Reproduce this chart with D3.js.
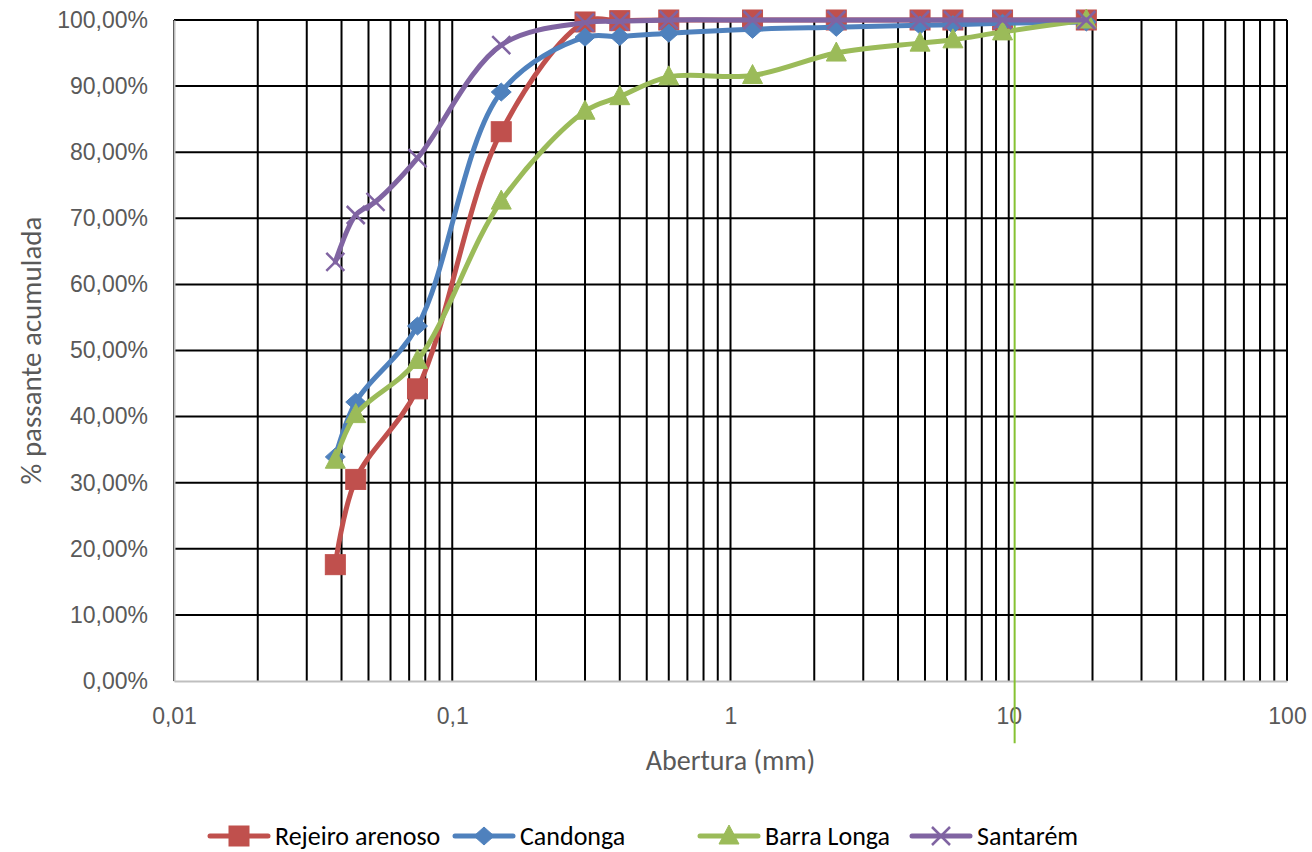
<!DOCTYPE html>
<html>
<head>
<meta charset="utf-8">
<script src="https://cdn.jsdelivr.net/npm/d3@7"></script>
<style>
  html,body{margin:0;padding:0;background:#fff;}
  svg{display:block;font-family:Carlito,Lato,"Open Sans",sans-serif;}
</style>
</head>
<body>
<div id="chart"></div>
<script>
(function(){
  // sieve openings (mm) and cumulative % passing
  const sieveMm=[0.038,0.045,0.075,0.15,0.3,0.4,0.6,1.2,2.4,4.8,6.3,9.5,19];
  const santaremMm=[0.038,0.045,0.053,0.075,0.15,0.3,0.4,0.6,1.2,2.4,4.8,6.3,9.5,19];
  const rejeiro=[17.6,30.5,44.2,83.1,99.7,99.9,100,100,100,100,100,100,100];
  const candonga=[33.9,42.2,53.7,89.1,97.4,97.5,98.0,98.6,98.9,99.2,99.3,99.5,99.7];
  const barraLonga=[33.4,40.3,48.5,72.6,86.2,88.4,91.4,91.6,95.0,96.5,97.0,98.2,100];
  const santarem=[63.4,70.5,72.5,79.1,96.2,99.6,99.8,100,100,100,100,100,100,100];
  const seriesNames=["Rejeiro arenoso","Candonga","Barra Longa","Santarém"];
  const xTicks=[0.01,0.1,1,10,100];
  const yTicks=[0,10,20,30,40,50,60,70,80,90,100];
  const markerLine={x:10.5,from:99.4,to:-9.4}; // lone green vertical line near 10 mm

  const series=[
    {name:seriesNames[0],xs:sieveMm,ys:rejeiro,color:"#C0504D",marker:"square"},
    {name:seriesNames[1],xs:sieveMm,ys:candonga,color:"#4F81BD",marker:"diamond"},
    {name:seriesNames[2],xs:sieveMm,ys:barraLonga,color:"#9BBB59",marker:"triangle"},
    {name:seriesNames[3],xs:santaremMm,ys:santarem,color:"#8064A2",marker:"x"}
  ];

  const W=1312,H=852;
  const m={top:20,right:25,bottom:171,left:174};
  const svg=d3.select("#chart").append("svg").attr("width",W).attr("height",H);
  svg.append("rect").attr("width",W).attr("height",H).attr("fill","#fff");

  const x=d3.scaleLog().domain([0.01,100]).range([m.left,W-m.right]);
  const y=d3.scaleLinear().domain([0,100]).range([H-m.bottom,m.top]);
  const br=d3.formatLocale({decimal:",",thousands:".",grouping:[3],currency:["R$",""]});
  const pct=br.format(".2f"), num=br.format("~g");

  // gridlines
  const grid=svg.append("g");
  grid.selectAll(".vg").data(x.ticks()).join("line")
    .attr("x1",d=>x(d)).attr("x2",d=>x(d))
    .attr("y1",y(0)).attr("y2",y(100))
    .attr("stroke","#000").attr("stroke-width",2);
  grid.selectAll(".hg").data(yTicks.slice(1)).join("line")
    .attr("x1",x(0.01)).attr("x2",x(100))
    .attr("y1",d=>y(d)).attr("y2",d=>y(d))
    .attr("stroke","#000").attr("stroke-width",2);

  // axes
  svg.append("g").attr("transform",`translate(${m.left},0)`)
    .call(d3.axisLeft(y).tickValues(yTicks).tickSize(0).tickPadding(26).tickFormat(d=>pct(d)+"%"))
    .call(s=>s.select(".domain").attr("stroke","#BFBFBF").attr("stroke-width",2))
    .call(s=>s.selectAll("text").attr("font-size",23).attr("fill","#595959").attr("font-family",null));
  svg.append("g").attr("transform",`translate(0,${y(0)})`)
    .call(d3.axisBottom(x).tickValues(xTicks).tickSize(0).tickPadding(27).tickFormat(num))
    .call(s=>s.select(".domain").attr("stroke","#BFBFBF").attr("stroke-width",2))
    .call(s=>s.selectAll("text").attr("font-size",23).attr("fill","#595959").attr("font-family",null));

  svg.append("text").attr("x",x(1)).attr("y",770)
    .attr("text-anchor","middle").attr("font-size",28).attr("fill","#595959")
    .text("Abertura (mm)");
  svg.append("text")
    .attr("transform",`translate(41,${(y(0)+y(100))/2}) rotate(-90)`)
    .attr("text-anchor","middle").attr("font-size",29).attr("fill","#595959")
    .text("% passante acumulada");

  // stray vertical line
  svg.append("line")
    .attr("x1",x(markerLine.x)).attr("x2",x(markerLine.x))
    .attr("y1",y(markerLine.from)).attr("y2",y(markerLine.to))
    .attr("stroke","#86C232").attr("stroke-width",2);

  const line=d3.line().curve(d3.curveCatmullRom.alpha(0.5))
    .x(d=>x(d[0])).y(d=>y(d[1]));

  function drawMarker(g,type,color){
    if(type==="square"){
      g.append("rect").attr("x",-10).attr("y",-10).attr("width",20).attr("height",20)
        .attr("fill",color).attr("stroke",color).attr("stroke-width",1);
    }else if(type==="diamond"){
      g.append("path").attr("d","M0,-9L10,0L0,9L-10,0Z")
        .attr("fill",color).attr("stroke",color).attr("stroke-width",1);
    }else if(type==="triangle"){
      g.append("path").attr("d","M0,-11L10,8L-10,8Z")
        .attr("fill",color).attr("stroke",color).attr("stroke-width",1);
    }else{
      g.append("path").attr("d","M-9,-9L9,9M-9,9L9,-9")
        .attr("fill","none").attr("stroke",color).attr("stroke-width",2.5);
    }
  }

  series.forEach(s=>{
    const pts=s.xs.map((v,i)=>[v,s.ys[i]]);
    const g=svg.append("g");
    g.append("path").datum(pts).attr("d",line)
      .attr("fill","none").attr("stroke",s.color).attr("stroke-width",5)
      .attr("stroke-linecap","round");
    g.selectAll(".mk").data(pts).join("g")
      .attr("transform",d=>`translate(${x(d[0])},${y(d[1])})`)
      .each(function(){drawMarker(d3.select(this),s.marker,s.color);});
  });

  // legend
  const legX=[210,455,700,912];
  const leg=svg.append("g").attr("transform","translate(0,836)");
  series.forEach((s,i)=>{
    const g=leg.append("g").attr("transform",`translate(${legX[i]},0)`);
    g.append("line").attr("x1",0).attr("x2",58).attr("y1",0).attr("y2",0)
      .attr("stroke",s.color).attr("stroke-width",5).attr("stroke-linecap","round");
    const mk=g.append("g").attr("transform","translate(29,0)");
    drawMarker(mk,s.marker,s.color);
    g.append("text").attr("x",65).attr("y",9).attr("font-size",26).attr("fill","#000")
      .text(s.name);
  });
})();
</script>
</body>
</html>
